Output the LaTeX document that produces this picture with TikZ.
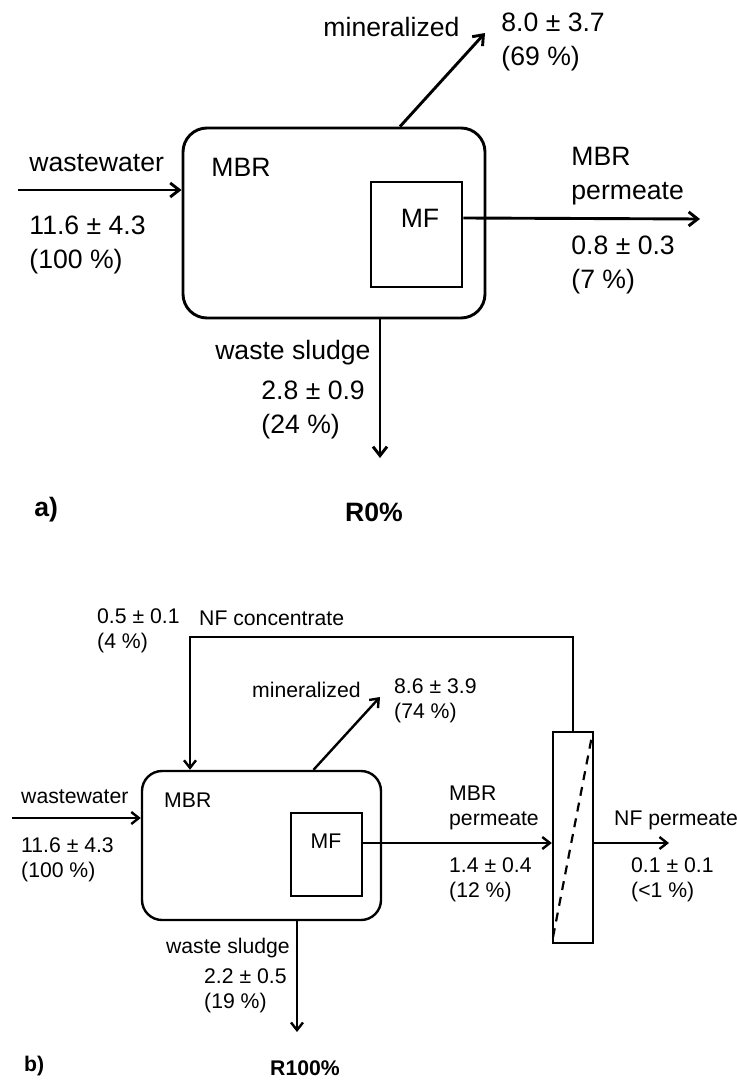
\documentclass[tikz,border=0pt]{standalone}
\usepackage{fontspec}
\setmainfont{Liberation Sans}
\usetikzlibrary{arrows.meta,calc}
\begin{document}
\begin{tikzpicture}[x=0.5pt,y=-0.5pt,
  unit/.style={draw,inner sep=0pt},
  filt/.style={draw,inner sep=0pt},
  flow/.style={->},
  txt/.style={anchor=west,align=left,inner sep=0pt}]
\fill[white] (0,0) rectangle (737,1080);
\useasboundingbox (0,0) rectangle (737,1080);

\begin{scope}[line width=1.45pt, >={Straight Barb[length=4.5pt,width=7pt]},
  nodes={font=\fontsize{13.3}{17}\selectfont},
  sublabel/.style={font=\fontsize{13.3}{17}\selectfont\bfseries}]
\node (MBRa) at (334,223) [unit,rounded corners=12pt,minimum width=151pt,minimum height=95pt]{};
\node (MFa) at (416.5,234.5) [filt,minimum width=45.5pt,minimum height=52.5pt]{};
\node (mbrta) at (210,167) [txt]{MBR};
\node (mfta) at (420,218) [inner sep=0pt]{MF};

\coordinate (wwa) at (18,190);
\coordinate (mina) at (485,33);
\coordinate (pmta) at (700,219);
\coordinate (wsa) at (380,458);

\draw[flow] (wwa) -- (wwa -| MBRa.west);
\draw[flow] ($(MBRa.north)+(66,0)$) -- (mina);
\draw[flow] (MFa.east |- mfta) -- (pmta);
\draw[flow] (MBRa.south -| wsa) -- (wsa);

\node (wwla) at (28,163) [txt]{wastewater};
\node (wwva) at (28,245) [txt]{11.6 ± 4.3\\(100 \%)};
\node (minla) at (322,27) [txt]{mineralized};
\node (minva) at (500,41.5) [txt]{8.0 ± 3.7\\(69 \%)};
\node (pmla) at (570,176) [txt]{MBR\\permeate};
\node (pmva) at (570,265) [txt]{0.8 ± 0.3\\(7 \%)};
\node (wsla) at (372,353) [txt,anchor=east]{waste sludge};
\node (wsva) at (260,409.5) [txt]{2.8 ± 0.9\\(24 \%)};
\node (taga) at (33,510) [txt,sublabel]{a)};
\node (runa) at (374,512) [sublabel]{R0\%};
\end{scope}

\begin{scope}[line width=1.2pt, >={Straight Barb[length=3.8pt,width=6pt]},
  nodes={font=\fontsize{10.6}{12.5}\selectfont},
  sublabel/.style={font=\fontsize{10.6}{12.5}\selectfont\bfseries}]
\node (MBRb) at (261.5,845.5) [unit,rounded corners=10pt,minimum width=119.5pt,minimum height=74.5pt]{};
\node (MFb) at (326.5,854.5) [filt,minimum width=35.5pt,minimum height=41.5pt]{};
\node (NF) at (573,837.5) [filt,minimum width=20pt,minimum height=105.5pt]{};
\node (mbrtb) at (163,800) [txt]{MBR};
\node (mftb) at (326,841) [inner sep=0pt]{MF};

\coordinate (wwb) at (12,818);
\coordinate (minb) at (380,697);
\coordinate (nfpb) at (669,843);
\coordinate (wsb) at (297,1032);
\coordinate (rcb) at (190,637);

\draw[flow] (wwb) -- (wwb -| MBRb.west);
\draw[flow] ($(MBRb.north)+(52,0)$) -- (minb);
\draw[flow] (MFb.east |- nfpb) -- (NF.west |- nfpb);
\draw[flow] (NF.east |- nfpb) -- (nfpb);
\draw[flow] (MBRb.south -| wsb) -- (wsb);
\draw[flow] (NF.north) |- (rcb) -- (rcb |- MBRb.north);
\draw[dashed,line width=1.1pt,dash pattern=on 4.5pt off 3.5pt] ($(NF.north east)+(-3,9)$) -- ($(NF.south west)+(1,-6)$);

\node (rcvb) at (96,630.5) [txt]{0.5 ± 0.1\\(4 \%)};
\node (rclb) at (198,618) [txt]{NF concentrate};
\node (minlb) at (251,690) [txt]{mineralized};
\node (minvb) at (393,701) [txt]{8.6 ± 3.9\\(74 \%)};
\node (wwlb) at (20,797) [txt]{wastewater};
\node (wwvb) at (20,859.5) [txt]{11.6 ± 4.3\\(100 \%)};
\node (pmlb) at (448,807.5) [txt]{MBR\\permeate};
\node (pmvb) at (448,879.5) [txt]{1.4 ± 0.4\\(12 \%)};
\node (nflb) at (613,820) [txt]{NF permeate};
\node (nfvb) at (630,879.5) [txt]{0.1 ± 0.1\\(<1 \%)};
\node (wslb) at (291,948) [txt,anchor=east]{waste sludge};
\node (wsvb) at (203,990.5) [txt]{2.2 ± 0.5\\(19 \%)};
\node (tagb) at (23,1066) [txt,sublabel]{b)};
\node (runb) at (305,1068) [sublabel]{R100\%};
\end{scope}
\end{tikzpicture}
\end{document}
